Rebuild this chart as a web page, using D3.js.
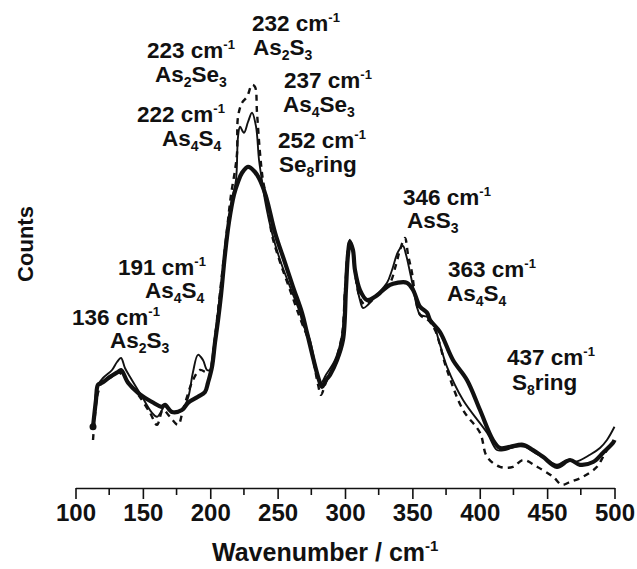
<!DOCTYPE html>
<meta charset="utf-8">
<style>
  body { margin: 0; background: #fff; }
  svg text { font-family: Arial, "Liberation Sans", sans-serif; font-weight: bold; fill: #111; }
  .axis path, .axis line { stroke: #111; stroke-width: 1.6; }
</style>
<body>
<div id="chart"></div>
<script src="https://d3js.org/d3.v7.min.js"></script>
<script>

// spectra: wavenumber (cm-1) and counts (arbitrary units)
const thickWn = [113, 115.2, 116.7, 119.7, 125.6, 131.5, 133.8, 139, 146.4, 156.8, 164.2, 166.4, 171.6, 179, 183.5, 190.9,
  196.1, 198.3, 201.3, 203.5, 205.8, 208, 210.9, 213.9, 217.6, 220.6, 223.6, 228, 233.2, 238.4, 242.1, 248.1, 255.5,
  261.4, 268.1, 271.8, 280, 282.9, 285.9, 288.9, 294.1, 298.5, 300.7, 302.2, 303.7, 305.9, 307.4, 311.1, 316.3, 322.3,
  326, 333.4, 338.6, 346, 350.5, 355.7, 360.9, 363.1, 370.5, 380.1, 390.5, 400.2, 409.8, 415, 422.5, 432.1, 439.5,
  446.9, 457.3, 467, 474.4, 484.1, 491.5, 498.9, 500];
const thickCounts = [15.3, 22, 25.8, 26.3, 27.8, 29, 29.5, 26.3, 23.8, 21.5, 20.3, 20.8, 19, 19.5, 21.3, 22.8,
  24, 26.3, 30.3, 36.3, 42, 48.3, 58.3, 66.5, 73.3, 76.5, 78.8, 80.3, 79, 75.8, 72, 63.8, 56.3,
  50.3, 43.8, 38.8, 27.8, 25.3, 27, 28.3, 32, 37, 49.5, 58.3, 61.5, 59.5, 54.5, 49.5, 47, 47.8,
  48.8, 50.8, 51.3, 51.3, 49.5, 45.3, 43.8, 42, 39, 32, 27, 19.5, 12, 10, 10.3, 10.8, 9.5,
  7.8, 5.3, 7, 5.8, 6.5, 8.8, 11.3, 12];

const thinWn = [114.5, 116.7, 120.4, 127.1, 130.8, 133.8, 136.7, 140.4, 149.4, 156.8, 160.5, 164.2, 166.4, 171.6, 179,
  183.5, 187.2, 190.9, 194.6, 197.6, 199.8, 202, 205, 208.7, 212.4, 215.4, 219.1, 220.6, 222.1, 225, 228, 231, 234,
  236.2, 239.1, 240.6, 245.8, 251.8, 259.2, 266.6, 268.8, 271.1, 274, 280, 282.2, 285.9, 292.6, 297.8, 300, 302.2,
  303.7, 305.9, 308.2, 311.1, 313.4, 317.1, 322.3, 331.2, 334.9, 339.3, 343, 345.3, 348.2, 350.5, 353.4, 355.7,
  360.9, 365.3, 370.5, 375.7, 387.6, 405.4, 412.8, 418.7, 426.2, 433.6, 441, 448.4, 457.3, 464.8, 470.7, 481.8,
  489.2, 494.4, 500];
const thinCounts = [22, 25.8, 27.5, 29.5, 31.5, 32.5, 30, 27.8, 22.8, 18.8, 17.8, 19.5, 20.8, 18.8, 19.5,
  22.5, 29, 33.3, 32, 29.5, 29.5, 33.8, 42, 52, 62, 70.8, 77, 87.8, 90.3, 88.8, 91.5, 93.8, 90.3,
  82, 75.3, 72, 63.8, 57, 50.3, 43.8, 40.8, 39.5, 37, 27.8, 26.3, 28.3, 32, 38.3, 49.5, 59.5,
  62, 59.5, 52, 47, 45, 45.8, 47.8, 51.3, 54.5, 59, 60.5, 58.3, 54, 50.3, 45.3, 43.3,
  42.8, 41.3, 35.8, 30.3, 22, 13.8, 9.5, 9.5, 10.3, 10.3, 8.8, 7.5, 5.8, 7, 6.5, 8.3,
  10, 12, 15.3];

const dashWn = [113, 115.2, 116.7, 120.4, 125.6, 131.5, 136.7, 145.6, 155.3, 160.5, 164.9, 170.1, 176.1, 179.8, 187.2,
  192.4, 196.1, 199.1, 202, 205, 208.7, 212.4, 215.4, 218.4, 219.9, 220.6, 223.6, 227.3, 231, 233.2, 234.7, 236.9,
  239.1, 242.1, 245.8, 251.8, 259.2, 266.6, 274, 280, 282.2, 285.9, 292.6, 297.8, 300, 302.2, 303.7, 305.9, 308.2,
  311.1, 314.8, 318.6, 326, 333.4, 337.8, 340.8, 344.5, 346.8, 349.7, 352, 355.7, 361.6, 366.8, 375.7, 387.6,
  400.2, 405.4, 415, 424.7, 432.1, 442.5, 454.4, 461, 467, 476.6, 487, 491.5, 495.2];
const dashCounts = [12, 20.8, 23.8, 27, 27.5, 29, 27.5, 23.8, 18.8, 15.8, 19.5, 17.8, 15.8, 19.5, 27,
  29.5, 29, 28.3, 33.3, 42, 53.3, 64.5, 73.3, 79.5, 83.8, 92.8, 96.3, 97.8, 100.8, 100.3, 93.8, 83.8,
  77, 72, 63.3, 56.5, 49.5, 42.5, 35.8, 25.8, 23.3, 26.5, 31.5, 38.3, 49.5, 59.5, 62, 59, 52,
  47.5, 45.8, 46.5, 49, 51.3, 55.8, 59.5, 62.5, 58.3, 53.8, 48.3, 43.3, 42, 39.5, 29.5, 19.5,
  13.8, 7.8, 5.3, 5.3, 7, 5.3, 2.8, 0.8, 1.5, 2.8, 5.3, 7.8, 10];

// axis ticks
const majorTicks = [100, 150, 200, 250, 300, 350, 400, 450, 500];
const minorTicks = [125, 175, 225, 275, 325, 375, 425, 475];

// band assignments
const peakWn = ["232", "223", "237", "222", "252", "191", "136", "346", "363", "437"];
const peakSpecies = ["As2S3", "As2Se3", "As4Se3", "As4S4", "Se8ring", "As4S4", "As2S3", "AsS3", "As4S4", "S8ring"];

const width = 637, height = 569;
const svg = d3.select("#chart").append("svg")
  .attr("width", width)
  .attr("height", height);

const x = d3.scaleLinear().domain([100, 500]).range([75.5, 614.5]);
const y = d3.scaleLinear().domain([0, 100]).range([488, 88]);

// x axis: labelled major ticks and short minor ticks
const xAxis = svg.append("g")
  .attr("class", "axis")
  .attr("transform", `translate(0,${y(0)})`)
  .call(d3.axisBottom(x).tickValues(majorTicks).tickFormat(d3.format("d"))
    .tickSize(11).tickSizeOuter(0).tickPadding(5));
xAxis.selectAll("text").style("font-size", "24px").attr("fill", "#111");
xAxis.selectAll(".minor")
  .data(minorTicks)
  .enter().append("line")
  .attr("class", "minor")
  .attr("x1", d => x(d)).attr("x2", d => x(d))
  .attr("y1", 0).attr("y2", 7)
  .attr("stroke", "#111").attr("stroke-width", 1.6);

// axis titles
const xTitle = svg.append("text")
  .attr("x", 212).attr("y", 561)
  .style("font-size", "25px");
xTitle.append("tspan").text("Wavenumber / cm");
xTitle.append("tspan").attr("dy", -10).style("font-size", "15px").text("-1");

svg.append("text")
  .attr("transform", "translate(33,244) rotate(-90)")
  .attr("text-anchor", "middle")
  .style("font-size", "22px")
  .text("Counts");

// spectra
const line = d3.line()
  .x(d => x(d[0]))
  .y(d => y(d[1]))
  .curve(d3.curveCatmullRom.alpha(0.5));

const series = [
  { wn: dashWn, c: dashCounts, w: 2.4, dash: "6,5" },
  { wn: thinWn, c: thinCounts, w: 1.9, dash: null },
  { wn: thickWn, c: thickCounts, w: 4.2, dash: null }
];

series.forEach(s => {
  svg.append("path")
    .datum(d3.zip(s.wn, s.c))
    .attr("d", line)
    .attr("fill", "none")
    .attr("stroke", "#111")
    .attr("stroke-width", s.w)
    .attr("stroke-linejoin", "round")
    .attr("stroke-dasharray", s.dash);
});

// start marker on the thick trace
svg.append("circle")
  .attr("cx", x(thickWn[0])).attr("cy", y(thickCounts[0]))
  .attr("r", 3.5).attr("fill", "#111");

// annotation placement: [x1, y1, x2, y2] for value line and species line
const labelPos = [
  [252, 31, 253, 55],
  [147, 58, 155, 82],
  [284, 88, 283, 112],
  [137, 122, 162, 146],
  [278, 148, 279, 172],
  [118, 275, 145, 298],
  [72, 325, 110, 348],
  [403, 205, 407, 228],
  [448, 277, 447, 301],
  [507, 365, 512, 390]
];

peakWn.forEach((wn, i) => {
  const p = labelPos[i];
  const t1 = svg.append("text").attr("x", p[0]).attr("y", p[1]).style("font-size", "22.5px");
  t1.append("tspan").text(wn + " cm");
  t1.append("tspan").attr("dy", -9).style("font-size", "13px").text("-1");

  const t2 = svg.append("text").attr("x", p[2]).attr("y", p[3]).style("font-size", "22.5px");
  // digits in the formula become subscripts
  const parts = peakSpecies[i].match(/\d+|\D+/g);
  let sub = false;
  parts.forEach(part => {
    const isNum = /\d/.test(part);
    const ts = t2.append("tspan").text(part);
    if (isNum) {
      ts.attr("dy", sub ? 0 : 5).style("font-size", "14px");
      sub = true;
    } else {
      if (sub) ts.attr("dy", -5);
      sub = false;
    }
  });
});

</script>
</body>
</html>
